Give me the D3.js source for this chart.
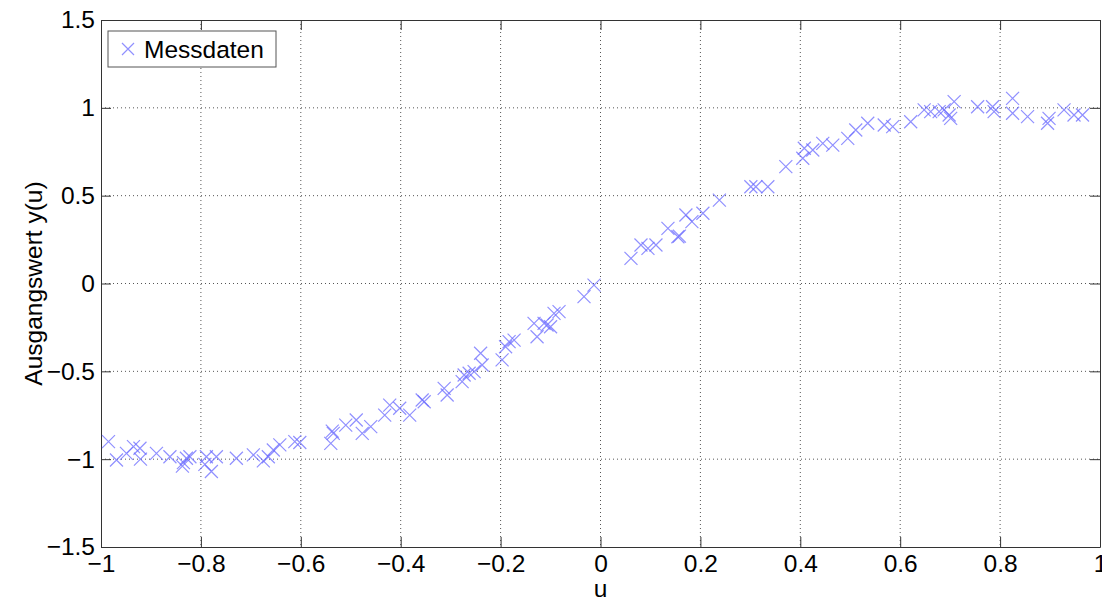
<!DOCTYPE html>
<html>
<head>
<meta charset="utf-8">
<script src="https://cdn.jsdelivr.net/npm/d3@7"></script>
<style>
  body { margin: 0; background: #fff; }
  svg text { font-family: "Liberation Sans", Arial, sans-serif; fill: #000; }
</style>
</head>
<body>
<svg id="chart" width="1102" height="598"></svg>
<script>
var uVals = [-0.985, -0.969, -0.949, -0.935, -0.922, -0.921, -0.889, -0.862, -0.835, -0.829,
  -0.822, -0.837, -0.789, -0.792, -0.779, -0.769, -0.729, -0.695, -0.675, -0.665,
  -0.655, -0.642, -0.612, -0.602, -0.537, -0.54, -0.535, -0.51, -0.489, -0.477,
  -0.46, -0.432, -0.422, -0.402, -0.382, -0.357, -0.353, -0.313, -0.307, -0.273,
  -0.277, -0.263, -0.253, -0.24, -0.237, -0.197, -0.19, -0.183, -0.173, -0.133,
  -0.127, -0.113, -0.107, -0.1, -0.093, -0.083, -0.033, -0.013, 0.061, 0.081,
  0.095, 0.111, 0.135, 0.155, 0.158, 0.171, 0.183, 0.205, 0.238, 0.301,
  0.311, 0.335, 0.371, 0.405, 0.408, 0.425, 0.445, 0.465, 0.495, 0.511,
  0.535, 0.568, 0.585, 0.621, 0.648, 0.661, 0.678, 0.688, 0.698, 0.701,
  0.708, 0.755, 0.785, 0.788, 0.825, 0.825, 0.855, 0.895, 0.898, 0.928,
  0.948, 0.965];
var yVals = [-0.90, -1.005, -0.967, -0.929, -0.938, -1.00, -0.967, -0.986, -1.02, -0.995,
  -0.986, -1.04, -0.986, -1.03, -1.07, -0.986, -0.995, -0.976, -1.01, -0.986,
  -0.948, -0.919, -0.90, -0.905, -0.84, -0.91, -0.853, -0.806, -0.777, -0.853,
  -0.815, -0.749, -0.692, -0.71, -0.749, -0.663, -0.673, -0.597, -0.635, -0.521,
  -0.559, -0.511, -0.502, -0.397, -0.464, -0.435, -0.36, -0.331, -0.322, -0.227,
  -0.303, -0.227, -0.236, -0.246, -0.17, -0.16, -0.075, -0.009, 0.143, 0.219,
  0.20, 0.219, 0.314, 0.266, 0.27, 0.39, 0.352, 0.40, 0.475, 0.551,
  0.551, 0.551, 0.665, 0.713, 0.77, 0.76, 0.798, 0.788, 0.826, 0.874,
  0.912, 0.902, 0.893, 0.921, 0.988, 0.978, 0.978, 0.988, 0.959, 0.94,
  1.035, 1.006, 1.006, 0.978, 1.054, 0.969, 0.95, 0.912, 0.94, 0.988,
  0.959, 0.959];
var xTicks = [-1, -0.8, -0.6, -0.4, -0.2, 0, 0.2, 0.4, 0.6, 0.8, 1];
var yTicks = [-1.5, -1, -0.5, 0, 0.5, 1, 1.5];
var seriesName = "Messdaten";

var svg = d3.select("#chart");
var pLeft = 101, pRight = 1100, pTop = 20, pBottom = 547;
var x = d3.scaleLinear().domain([-1, 1]).range([pLeft, pRight]);
var y = d3.scaleLinear().domain([-1.5, 1.5]).range([pBottom, pTop]);
var fs = 24.5;

function fmt(v) {
  return String(v).replace("-", "\u2212");
}

// grid
svg.append("g").selectAll("line").data(xTicks.slice(1, -1)).enter().append("line")
  .attr("x1", function(d) { return x(d); }).attr("x2", function(d) { return x(d); })
  .attr("y1", pTop).attr("y2", pBottom)
  .attr("stroke", "#555").attr("stroke-width", 1).attr("stroke-dasharray", "1,3");
svg.append("g").selectAll("line").data(yTicks.slice(1, -1)).enter().append("line")
  .attr("x1", pLeft).attr("x2", pRight)
  .attr("y1", function(d) { return y(d); }).attr("y2", function(d) { return y(d); })
  .attr("stroke", "#555").attr("stroke-width", 1).attr("stroke-dasharray", "1,3");

// axes
var xAxis = svg.append("g").attr("transform", "translate(0," + pBottom + ")")
  .call(d3.axisBottom(x).tickValues(xTicks).tickSizeInner(-10).tickSizeOuter(0).tickPadding(12).tickFormat(fmt));
var yAxis = svg.append("g").attr("transform", "translate(" + pLeft + ",0)")
  .call(d3.axisLeft(y).tickValues(yTicks).tickSizeInner(-10).tickSizeOuter(0).tickPadding(6).tickFormat(fmt));
svg.append("g").attr("transform", "translate(0," + pTop + ")")
  .call(d3.axisTop(x).tickValues(xTicks).tickSizeInner(-10).tickSizeOuter(0).tickFormat(""));
svg.append("g").attr("transform", "translate(" + pRight + ",0)")
  .call(d3.axisRight(y).tickValues(yTicks).tickSizeInner(-10).tickSizeOuter(0).tickFormat(""));
svg.selectAll(".domain").attr("stroke", "#333");
svg.selectAll(".tick line").attr("stroke", "#333");
svg.selectAll(".tick text").attr("font-size", fs).attr("font-family", "Liberation Sans, Arial, sans-serif");
xAxis.selectAll(".tick text").attr("dy", "0.55em");

// axis titles
svg.append("text").attr("x", x(0)).attr("y", 597).attr("text-anchor", "middle")
  .attr("font-size", fs).text("u");
svg.append("text").attr("transform", "translate(42," + y(0) + ") rotate(-90)")
  .attr("text-anchor", "middle").attr("font-size", fs).text("Ausgangswert y(u)");

// markers
var pts = uVals.map(function(u, i) { return [u, yVals[i]]; });
var s = 6.5;
svg.append("g").selectAll("path").data(pts).enter().append("path")
  .attr("d", function(d) {
    var cx = x(d[0]), cy = y(d[1]);
    return "M" + (cx - s) + "," + (cy - s) + "L" + (cx + s) + "," + (cy + s) +
      "M" + (cx - s) + "," + (cy + s) + "L" + (cx + s) + "," + (cy - s);
  })
  .attr("stroke", "#6b6bff").attr("stroke-opacity", 0.75).attr("stroke-width", 1.2).attr("fill", "none");

// legend
var lg = svg.append("g");
lg.append("rect").attr("x", 108).attr("y", 31).attr("width", 168).attr("height", 36)
  .attr("fill", "#fff").attr("stroke", "#555");
lg.append("path").attr("d", "M122,43L134,55M122,55L134,43")
  .attr("stroke", "#6b6bff").attr("stroke-opacity", 0.75).attr("stroke-width", 1.2);
lg.append("text").attr("x", 144).attr("y", 58).attr("font-size", fs).text(seriesName);
</script>
</body>
</html>
